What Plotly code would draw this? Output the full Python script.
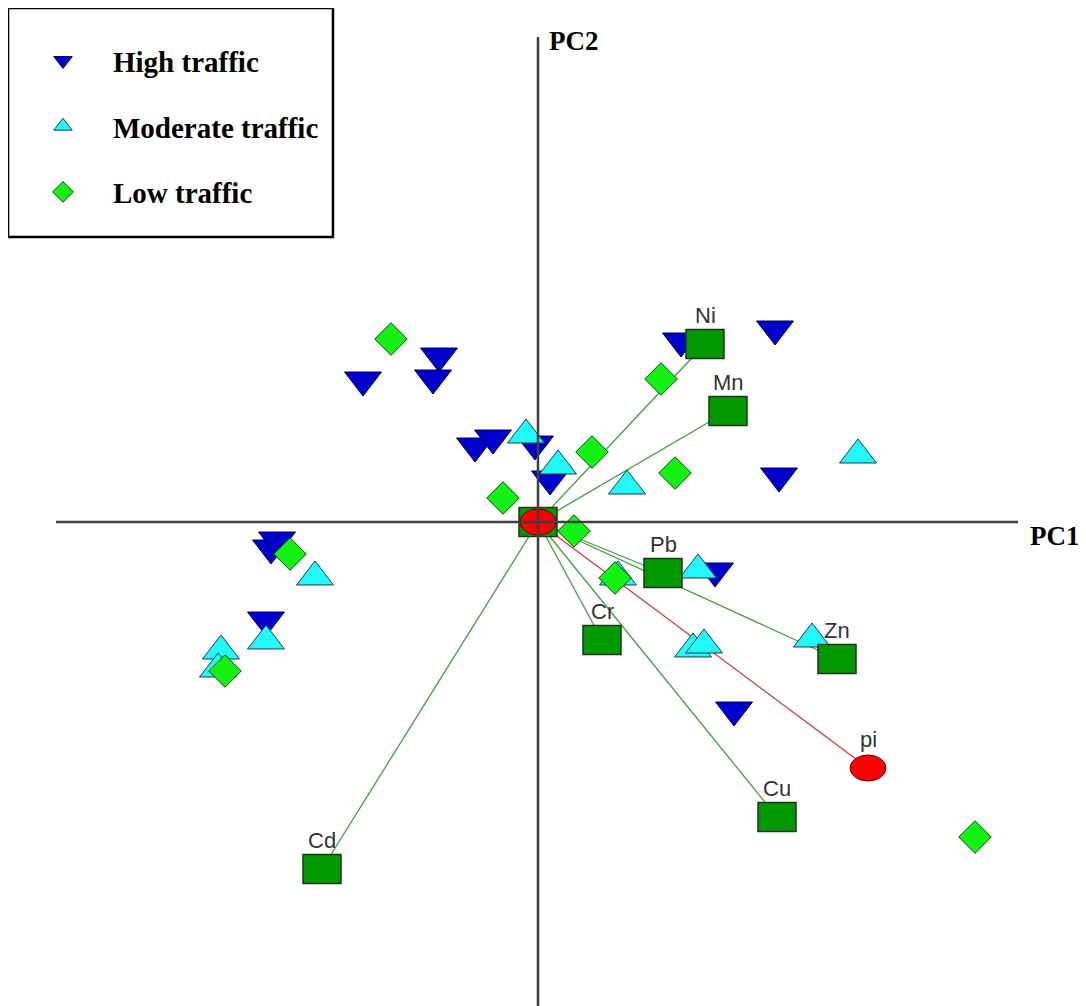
import plotly.graph_objects as go

# ---- sample scores (PC1, PC2) ----
high_pc1 = [-1.75, -0.99, -1.05, -0.63, -0.45, -0.03, 0.12, 1.43, 2.37, 2.41, -2.67, -2.61, -2.72, 1.77, 1.96]
high_pc2 = [1.42, 1.66, 1.44, 0.76, 0.84, 0.78, 0.43, 1.81, 1.93, 0.46, -0.26, -0.18, -0.98, -0.49, -1.88]

moderate_pc1 = [-0.12, 0.20, 0.89, 3.20, -2.23, -2.72, -3.17, -3.20, 1.60, 0.80, 1.55, 1.66, 2.74]
moderate_pc2 = [0.87, 0.56, 0.36, 0.67, -0.55, -1.19, -1.29, -1.47, -0.48, -0.55, -1.27, -1.23, -1.17]

low_pc1 = [-1.47, 1.23, 0.54, 1.37, -0.35, 0.36, -2.48, -3.13, 0.77, 4.37]
low_pc2 = [1.83, 1.43, 0.70, 0.49, 0.24, -0.09, -0.32, -1.49, -0.56, -3.15]

# ---- variable loadings ----
var_names = ["Ni", "Mn", "Pb", "Cr", "Zn", "Cu", "Cd"]
var_pc1 = [1.67, 1.90, 1.25, 0.64, 2.99, 2.39, -2.16]
var_pc2 = [1.78, 1.11, -0.51, -1.18, -1.37, -2.95, -3.47]

pi_names = ["pi"]
pi_pc1 = [3.30]
pi_pc2 = [-2.46]

origin_pc1 = [0.0]
origin_pc2 = [0.0]

X_RANGE = [-4.82, 4.80]
Y_RANGE = [-4.84, 4.85]

fig = go.Figure()

# loading vectors
gx, gy = [], []
for x, y in zip(var_pc1, var_pc2):
    gx += [origin_pc1[0], x, None]
    gy += [origin_pc2[0], y, None]
fig.add_trace(go.Scatter(x=gx, y=gy, mode="lines", line=dict(color="#3f9f3f", width=1.3),
                         showlegend=False, hoverinfo="skip"))
rx, ry = [], []
for x, y in zip(pi_pc1, pi_pc2):
    rx += [origin_pc1[0], x, None]
    ry += [origin_pc2[0], y, None]
fig.add_trace(go.Scatter(x=rx, y=ry, mode="lines", line=dict(color="#cc3b3b", width=1.3),
                         showlegend=False, hoverinfo="skip"))

fig.add_trace(go.Scatter(x=high_pc1, y=high_pc2, mode="markers", name="High traffic", legendgroup="h",
                         marker=dict(symbol="triangle-down", size=32, color="#0000cc",
                                     line=dict(color="#000050", width=1))))
fig.add_trace(go.Scatter(x=moderate_pc1, y=moderate_pc2, mode="markers", name="Moderate traffic", legendgroup="m",
                         marker=dict(symbol="triangle-up", size=32, color="#22f8f8",
                                     line=dict(color="#1d3a55", width=1))))
fig.add_trace(go.Scatter(x=low_pc1, y=low_pc2, mode="markers", name="Low traffic", legendgroup="l",
                         marker=dict(symbol="diamond", size=25, color="#14f214",
                                     line=dict(color="#0b3d0b", width=1))))

shapes = []
# squares for variables (and origin)
for x, y in zip(origin_pc1 + var_pc1, origin_pc2 + var_pc2):
    shapes.append(dict(type="rect", xref="x", yref="y", xsizemode="pixel", ysizemode="pixel",
                       xanchor=x, yanchor=y, x0=-19, x1=19, y0=-14.5, y1=14.5,
                       fillcolor="#009a00", line=dict(color="#1f331f", width=1.5), layer="above"))
# red ellipses
for x, y in zip(origin_pc1 + pi_pc1, origin_pc2 + pi_pc2):
    shapes.append(dict(type="circle", xref="x", yref="y", xsizemode="pixel", ysizemode="pixel",
                       xanchor=x, yanchor=y, x0=-18, x1=18, y0=-13, y1=13,
                       fillcolor="#ff0000", line=dict(color="#660000", width=1), layer="above"))
# PC axes
shapes.append(dict(type="line", xref="x", yref="y domain", x0=0, x1=0, y0=0, y1=1,
                   line=dict(color="#404040", width=2.5), layer="above"))
shapes.append(dict(type="line", xref="x domain", yref="y", x0=0, x1=1, y0=0, y1=0,
                   line=dict(color="#404040", width=2.5), layer="above"))
# legend frame
shapes.append(dict(type="rect", xref="paper", yref="paper", x0=-0.0499, x1=0.2879, y0=0.7936, y1=1.0299,
                   line=dict(color="black", width=2.5), fillcolor="rgba(0,0,0,0)", layer="above"))

annotations = []
for n, x, y in zip(var_names + pi_names, var_pc1 + pi_pc1, var_pc2 + pi_pc2):
    annotations.append(dict(x=x, y=y, xref="x", yref="y", text=n, showarrow=False, yshift=29,
                            xanchor="center", yanchor="middle",
                            font=dict(family="Liberation Sans", size=22, color="#333333")))
annotations.append(dict(x=1.0385, y=0.485, xref="paper", yref="paper", text="PC1", showarrow=False,
                        xanchor="center", yanchor="middle",
                        font=dict(family="Liberation Serif", size=27, color="black", weight="bold")))
annotations.append(dict(x=0.5385, y=0.9959, xref="paper", yref="paper", text="PC2", showarrow=False,
                        xanchor="center", yanchor="middle",
                        font=dict(family="Liberation Serif", size=27, color="black", weight="bold")))

fig.update_layout(
    width=1086, height=1006, autosize=False,
    margin=dict(l=48, r=76, t=29, b=8, autoexpand=False),
    paper_bgcolor="white", plot_bgcolor="white",
    xaxis=dict(range=X_RANGE, visible=False, showgrid=False, zeroline=False),
    yaxis=dict(range=Y_RANGE, visible=False, showgrid=False, zeroline=False),
    shapes=shapes, annotations=annotations,
    showlegend=True,
    legend=dict(xref="container", yref="container", x=0.0046, y=0.973, xanchor="left", yanchor="top",
                borderwidth=0, bgcolor="rgba(255,255,255,0)",
                font=dict(family="Liberation Serif", size=29, color="black", weight="bold"),
                itemwidth=90, tracegroupgap=25),
    hovermode=False,
)

fig.write_html("out.html")
